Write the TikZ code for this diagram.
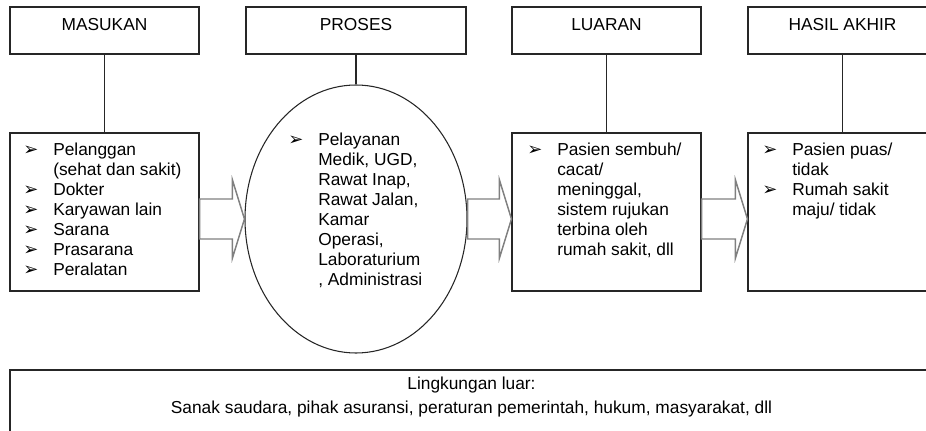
\documentclass[tikz,border=0pt]{standalone}
\usepackage{fontspec}
\setmainfont{Liberation Sans}
\newfontfamily\symfont{DejaVu Sans}
\usetikzlibrary{shapes.geometric,calc}

\newcommand{\itm}{\makebox[22.5pt][l]{\symfont\fontsize{13.5}{13.5}\selectfont ➢}}
\newcommand{\nxt}{\hspace*{22.5pt}}
\newcommand{\blockarrow}[2]{%
  \draw[block arrow] ($(#1)+(0,-20)$) -- ($(#2)+(-12,-20)$) -- ($(#2)+(-12,-39)$) -- (#2)
    -- ($(#2)+(-12,39)$) -- ($(#2)+(-12,20)$) -- ($(#1)+(0,20)$) -- cycle;}

\begin{document}
\begin{tikzpicture}[x=0.75pt,y=-0.75pt,line join=miter,
    head node/.style={rectangle,draw=black!85,line width=0.8pt,minimum width=141.75pt,
                      inner sep=0pt,text height=18pt,text depth=17.25pt,font=\fontsize{13}{15}\selectfont},
    list node/.style={rectangle,draw=black!85,line width=0.8pt,minimum width=141.75pt,
                      minimum height=118.5pt,inner sep=0pt},
    list text/.style={anchor=base west,inner sep=0pt,font=\fontsize{13}{15}\selectfont},
    block arrow/.style={draw=black!50,line width=1.1pt}]
  \useasboundingbox (0,0) rectangle (926,431);

  \node[head node] (masukan) at (104.5,30.5) {MASUKAN};
  \node[head node,minimum width=165pt] (proses) at (356,30.5) {PROSES};
  \node[head node] (luaran) at (606.5,30.5) {LUARAN};
  \node[head node] (hasil) at (842.5,30.5) {HASIL AKHIR};

  \node[list node] (input) at (104.5,212) {};
  \node[ellipse,draw=black!85,line width=0.8pt,minimum width=166.5pt,minimum height=201pt,
        inner sep=0pt] (process) at (356,219) {};
  \node[list node] (output) at (606.5,212) {};
  \node[list node] (outcome) at (842.5,212) {};
  \node[rectangle,draw=black!85,line width=0.8pt,minimum width=692.25pt,minimum height=60pt]
    (env) at (471.5,410) {};

  \node[list text] (inputtext) at (23,156) {\begin{tabular}[t]{@{}l@{}}
      \itm Pelanggan\\ \nxt(sehat dan sakit)\\ \itm Dokter\\ \itm Karyawan lain\\
      \itm Sarana\\ \itm Prasarana\\ \itm Peralatan\end{tabular}};
  \node[list text] (processtext) at (288,146) {\begin{tabular}[t]{@{}l@{}}
      \itm Pelayanan\\ \nxt Medik, UGD,\\ \nxt Rawat Inap,\\ \nxt Rawat Jalan,\\
      \nxt Kamar\\ \nxt Operasi,\\ \nxt Laboraturium\\ \nxt, Administrasi\end{tabular}};
  \node[list text] (outputtext) at (527,156) {\begin{tabular}[t]{@{}l@{}}
      \itm Pasien sembuh/\\ \nxt cacat/\\ \nxt meninggal,\\ \nxt sistem rujukan\\
      \nxt terbina oleh\\ \nxt rumah sakit, dll\end{tabular}};
  \node[list text] (outcometext) at (762,156) {\begin{tabular}[t]{@{}l@{}}
      \itm Pasien puas/\\ \nxt tidak\\ \itm Rumah sakit\\ \nxt maju/ tidak\end{tabular}};
  \node[anchor=base,inner sep=0pt,font=\fontsize{13}{18}\selectfont] (envtext) at (471.5,390)
    {\begin{tabular}[t]{@{}c@{}}Lingkungan luar:\\
      Sanak saudara, pihak asuransi, peraturan pemerintah, hukum, masyarakat, dll\end{tabular}};

  \path[draw=black!85,line width=0.8pt]
    (masukan) edge (input)
    (proses) edge (process)
    (luaran) edge (output)
    (hasil) edge (outcome);

  \blockarrow{input.east |- process.center}{process.west}
  \blockarrow{process.east}{output.west |- process.center}
  \blockarrow{output.east |- process.center}{outcome.west |- process.center}
\end{tikzpicture}
\end{document}
